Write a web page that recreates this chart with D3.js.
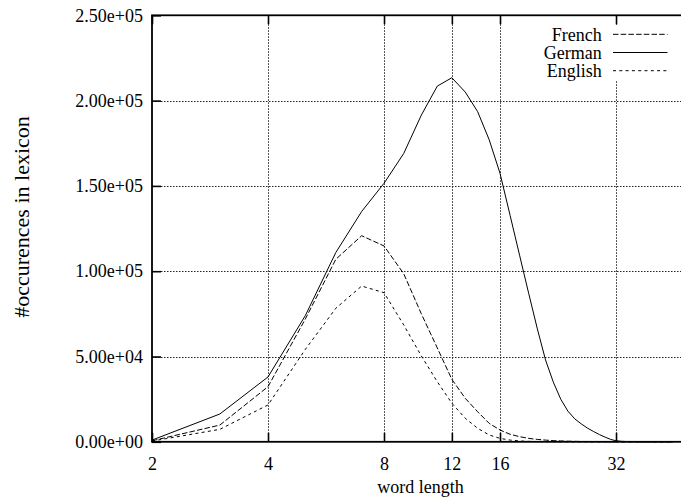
<!DOCTYPE html>
<html>
<head>
<meta charset="utf-8">
<script src="https://cdn.jsdelivr.net/npm/d3@7"></script>
<style>
  html, body { margin: 0; padding: 0; background: #fff; }
  svg { display: block; }
  text { font-family: "Liberation Serif", "Times New Roman", serif; fill: #000; }
</style>
</head>
<body>
<svg id="chart" width="681" height="499"></svg>
<script>
// ---- data ----
const wordLengths = [2,3,4,5,6,7,8,9,10,11,12,13,14,15,16,17,18,19,20,21,22,23,24,25,26,27,28,29,30,31,32,33,34,35,36,37,38,39,40,41,42,43,44,45];
const french  = [600,9800,32300,72000,107000,120800,114800,98500,75000,55000,36600,25500,17600,10800,6900,4400,3000,2000,1400,1000,700,500,350,250,180,120,80,50,30,20,10,5,0,0,0,0,0,0,0,0,0,0,0,0];
const german  = [1000,16300,38000,74000,111000,135000,151500,169000,191500,208500,213400,205000,193500,177000,157400,132600,109000,86800,66200,48000,35000,25000,18000,13500,10500,8000,6000,4200,2700,1400,600,300,150,80,40,20,10,5,0,0,0,0,0,0];
const english = [400,7300,21600,54200,78300,91300,87400,68500,50300,35200,22600,13800,7900,4000,2000,1000,500,250,120,60,30,15,5,0,0,0,0,0,0,0,0,0,0,0,0,0,0,0,0,0,0,0,0,0];
const seriesNames = ["French", "German", "English"];
const xTicks = [2,4,8,12,16,32];
const xTickLabels = ["2","4","8","12","16","32"];
const yTicks = [0,50000,100000,150000,200000,250000];
const yTickLabels = ["0.00e+00","5.00e+04","1.00e+05","1.50e+05","2.00e+05","2.50e+05"];
const xTitle = "word length";
const yTitle = "#occurences in lexicon";

// ---- layout ----
const L = 152, R = 690.7, T = 15.3, B = 441.8;
const svg = d3.select("#chart");

const x = d3.scaleLog().base(2).domain([2, 50]).range([L, R]);
const y = d3.scaleLinear().domain([0, 250000]).range([B, T]);

// grid
const grid = svg.append("g").attr("stroke", "#222").attr("stroke-width", 1).attr("stroke-dasharray", "1.5,1.5");
grid.selectAll("line.v").data(xTicks.filter(d => d !== 2)).join("line")
  .attr("x1", d => Math.round(x(d)) + 0.5).attr("x2", d => Math.round(x(d)) + 0.5)
  .attr("y1", T).attr("y2", B);
grid.selectAll("line.h").data(yTicks.filter(d => d !== 0 && d !== 250000)).join("line")
  .attr("x1", L).attr("x2", R)
  .attr("y1", d => Math.round(y(d)) + 0.5).attr("y2", d => Math.round(y(d)) + 0.5);

// legend background (opaque key area)
svg.append("rect").attr("x", 545).attr("y", 25).attr("width", 140).attr("height", 55).attr("fill", "#fff");

// data lines
const seriesData = [french, german, english];
const dashes = ["5.5,2.2", null, "3,3.3"];
const line = d3.line().x(d => x(d[0])).y(d => y(d[1]));
seriesData.forEach((vals, i) => {
  const pts = wordLengths.map((w, j) => [w, vals[j]]);
  svg.append("path").datum(pts)
    .attr("d", line)
    .attr("fill", "none")
    .attr("stroke", "#000")
    .attr("stroke-width", 1)
    .attr("stroke-dasharray", dashes[i]);
});

// axes
const fontSize = 18;
const axL = d3.axisLeft(y).tickValues(yTicks).tickSizeInner(-9).tickSizeOuter(0).tickPadding(9)
  .tickFormat((d, i) => yTickLabels[i]);
const gL = svg.append("g").attr("transform", `translate(${L},0)`).call(axL);
const axB = d3.axisBottom(x).tickValues(xTicks).tickSizeInner(-9).tickSizeOuter(0).tickPadding(15)
  .tickFormat((d, i) => xTickLabels[i]);
const gB = svg.append("g").attr("transform", `translate(0,${B})`).call(axB);
const axT = d3.axisTop(x).tickValues(xTicks).tickSizeInner(-9).tickSizeOuter(0).tickFormat("");
const gT = svg.append("g").attr("transform", `translate(0,${T})`).call(axT);
const axR = d3.axisRight(y).tickValues(yTicks).tickSizeInner(-9).tickSizeOuter(0).tickFormat("");
const gR = svg.append("g").attr("transform", `translate(${R},0)`).call(axR);
[gL, gB, gT, gR].forEach(g => {
  g.select(".domain").remove();
  g.selectAll(".tick line").attr("stroke", "#000").attr("stroke-width", 1.6);
  g.selectAll(".tick text").attr("font-family", "Liberation Serif").attr("font-size", fontSize).attr("fill", "#000");
});

// border
svg.append("rect").attr("x", L).attr("y", T).attr("width", R - L).attr("height", B - T)
  .attr("fill", "none").attr("stroke", "#000").attr("stroke-width", 1.8);

// titles
svg.append("text").attr("x", 420.5).attr("y", 493).attr("text-anchor", "middle")
  .attr("font-size", fontSize).text(xTitle);
svg.append("text").attr("transform", "translate(29,217) rotate(-90)").attr("text-anchor", "middle")
  .attr("font-size", 22).text(yTitle);

// legend
const legY = [34.3, 52.5, 70.7];
seriesNames.forEach((name, i) => {
  svg.append("text").attr("x", 601.7).attr("y", legY[i] + 6.2).attr("text-anchor", "end")
    .attr("font-size", fontSize).text(name);
  svg.append("line").attr("x1", 613).attr("x2", 667.5).attr("y1", legY[i]).attr("y2", legY[i])
    .attr("stroke", "#000").attr("stroke-width", 1).attr("stroke-dasharray", dashes[i]);
});
</script>
</body>
</html>
